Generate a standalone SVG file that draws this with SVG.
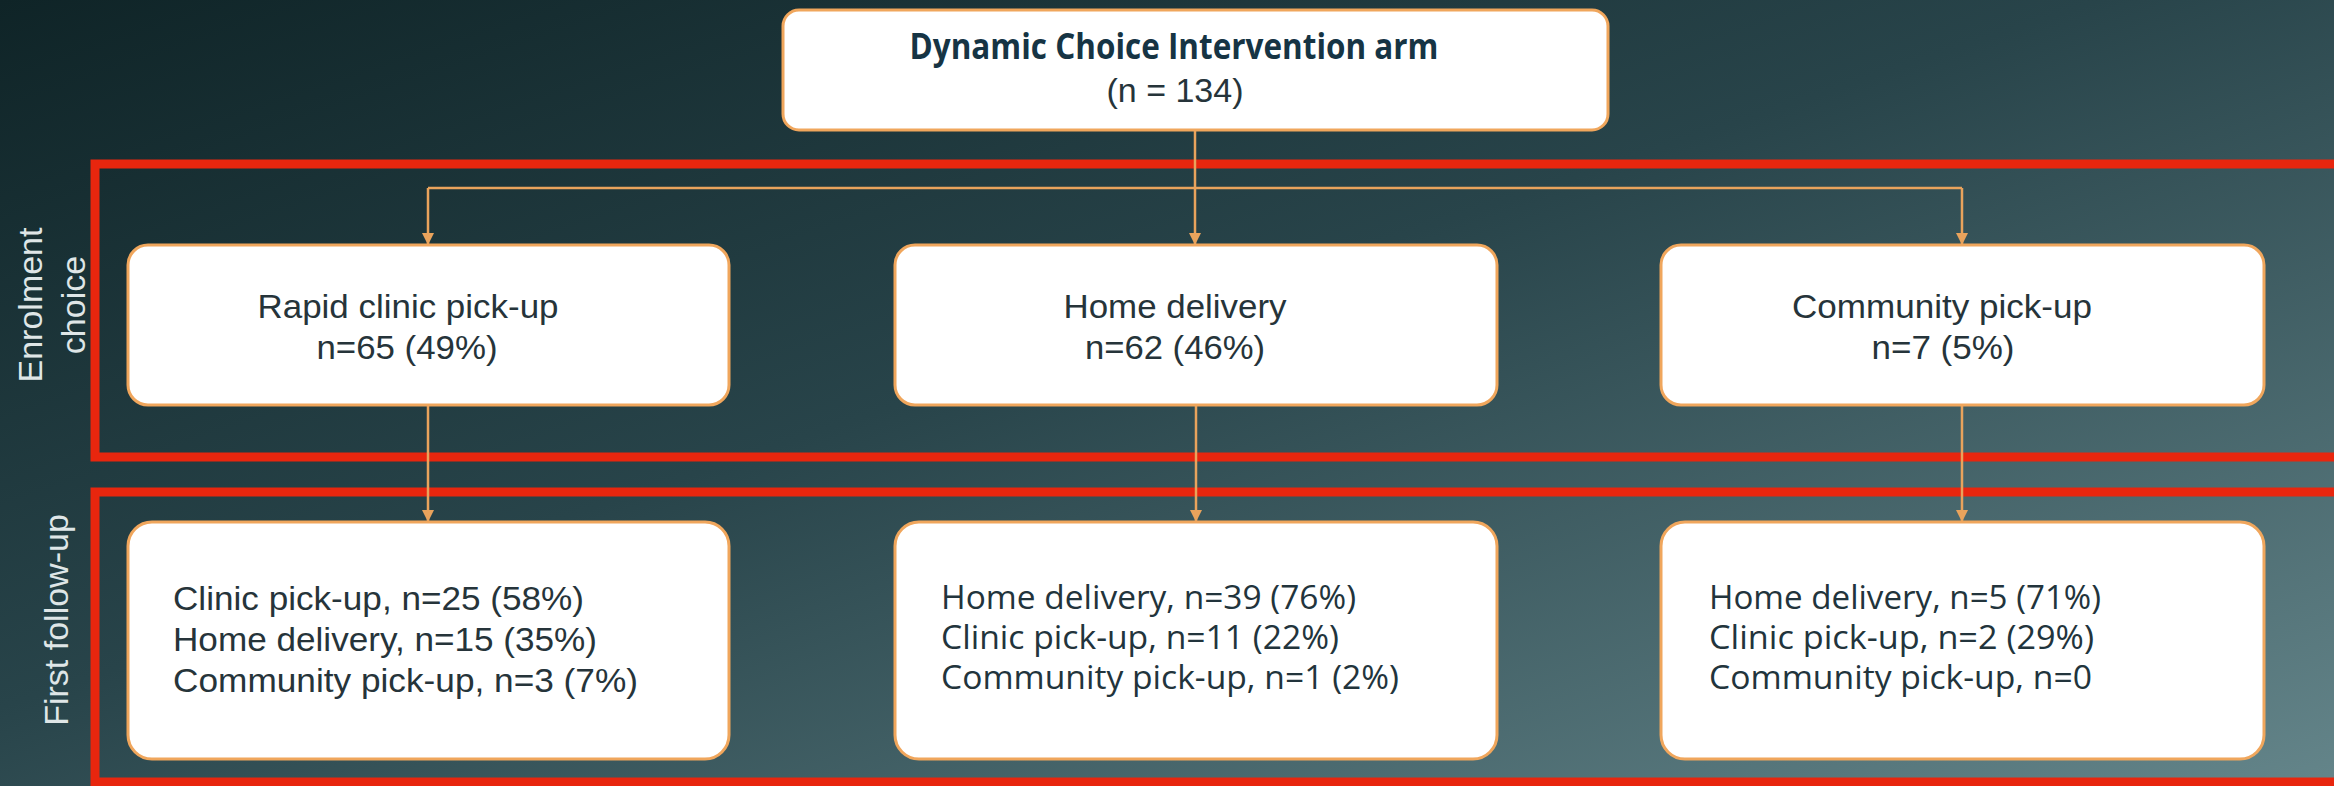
<svg xmlns="http://www.w3.org/2000/svg" width="2334" height="786" viewBox="0 0 2334 786">
<defs>
<linearGradient id="bg" x1="0" y1="0" x2="1" y2="1">
<stop offset="0" stop-color="#0f2427"/>
<stop offset="0.45" stop-color="#28444a"/>
<stop offset="1" stop-color="#64858a"/>
</linearGradient>
<marker id="arr" viewBox="0 0 10 10" refX="10" refY="5" markerWidth="12" markerHeight="12" markerUnits="userSpaceOnUse" orient="auto">
<path d="M0,0 L10,5 L0,10 Z" fill="#e9a35c"/>
</marker>
<style>
.box{fill:#ffffff;stroke:#f0a65c;stroke-width:3}
.band{fill:none;stroke:#e8260e;stroke-width:9}
.con{fill:none;stroke:#e9a35c;stroke-width:2.5}
.ar{font-family:"Liberation Sans",Arial,sans-serif;font-size:33px;fill:#26343a}
.fs{font-family:"Open Sans","Noto Sans",sans-serif;font-size:32px;fill:#22343c}
.title{font-family:"Open Sans","Noto Sans",sans-serif;font-size:35px;font-weight:700;fill:#163444}
.side{font-family:"Liberation Sans",Arial,sans-serif;font-size:34px;fill:#dfe6e7}
</style>
</defs>
<rect x="0" y="0" width="2334" height="786" fill="url(#bg)"/>

<g id="bands">
<rect class="band" x="95" y="164" width="2260" height="293"/>
<rect class="band" x="95" y="492" width="2260" height="290"/>
</g>

<g id="side-labels">
<text class="side" text-anchor="middle" transform="translate(42,305) rotate(-90)">Enrolment</text>
<text class="side" text-anchor="middle" transform="translate(85,305) rotate(-90)">choice</text>
<text class="side" text-anchor="middle" transform="translate(68,620) rotate(-90)">First follow-up</text>
</g>

<g id="connectors">
<path class="con" d="M1195,130 V188"/>
<path class="con" d="M428,188 H1962"/>
<path class="con" d="M1195,188 V245" marker-end="url(#arr)"/>
<path class="con" d="M428,188 V245" marker-end="url(#arr)"/>
<path class="con" d="M1962,188 V245" marker-end="url(#arr)"/>
<path class="con" d="M428,405 V522" marker-end="url(#arr)"/>
<path class="con" d="M1196,405 V522" marker-end="url(#arr)"/>
<path class="con" d="M1962,405 V522" marker-end="url(#arr)"/>
</g>

<g id="top">
<rect class="box" x="783" y="10" width="825" height="120" rx="16"/>
<text class="title" x="1174" y="59" text-anchor="middle" textLength="529" lengthAdjust="spacingAndGlyphs">Dynamic Choice Intervention arm</text>
<text class="ar" x="1175" y="102" text-anchor="middle" textLength="137" lengthAdjust="spacingAndGlyphs">(n = 134)</text>
</g>

<g id="enrol-clinic">
<rect class="box" x="128" y="245" width="601" height="160" rx="20"/>
<text class="ar" x="408" y="318" text-anchor="middle" textLength="301" lengthAdjust="spacingAndGlyphs">Rapid clinic pick-up</text>
<text class="ar" x="407" y="359" text-anchor="middle" textLength="181" lengthAdjust="spacingAndGlyphs">n=65 (49%)</text>
</g>

<g id="enrol-home">
<rect class="box" x="895" y="245" width="602" height="160" rx="20"/>
<text class="ar" x="1175" y="318" text-anchor="middle" textLength="223" lengthAdjust="spacingAndGlyphs">Home delivery</text>
<text class="ar" x="1175" y="359" text-anchor="middle" textLength="180" lengthAdjust="spacingAndGlyphs">n=62 (46%)</text>
</g>

<g id="enrol-community">
<rect class="box" x="1661" y="245" width="603" height="160" rx="20"/>
<text class="ar" x="1942" y="318" text-anchor="middle" textLength="300" lengthAdjust="spacingAndGlyphs">Community pick-up</text>
<text class="ar" x="1943" y="359" text-anchor="middle" textLength="143" lengthAdjust="spacingAndGlyphs">n=7 (5%)</text>
</g>

<g id="fu-clinic">
<rect class="box" x="128" y="522" width="601" height="237" rx="24"/>
<text class="ar" x="173" y="610" textLength="411" lengthAdjust="spacingAndGlyphs">Clinic pick-up, n=25 (58%)</text>
<text class="ar" x="173" y="651" textLength="424" lengthAdjust="spacingAndGlyphs">Home delivery, n=15 (35%)</text>
<text class="ar" x="173" y="692" textLength="465" lengthAdjust="spacingAndGlyphs">Community pick-up, n=3 (7%)</text>
</g>

<g id="fu-home">
<rect class="box" x="895" y="522" width="602" height="237" rx="24"/>
<text class="fs" x="941" y="609" textLength="415" lengthAdjust="spacingAndGlyphs">Home delivery, n=39 (76%)</text>
<text class="fs" x="941" y="649" textLength="398" lengthAdjust="spacingAndGlyphs">Clinic pick-up, n=11 (22%)</text>
<text class="fs" x="941" y="689" textLength="458" lengthAdjust="spacingAndGlyphs">Community pick-up, n=1 (2%)</text>
</g>

<g id="fu-community">
<rect class="box" x="1661" y="522" width="603" height="237" rx="24"/>
<text class="fs" x="1709" y="609" textLength="392" lengthAdjust="spacingAndGlyphs">Home delivery, n=5 (71%)</text>
<text class="fs" x="1709" y="649" textLength="385" lengthAdjust="spacingAndGlyphs">Clinic pick-up, n=2 (29%)</text>
<text class="fs" x="1709" y="689" textLength="383" lengthAdjust="spacingAndGlyphs">Community pick-up, n=0</text>
</g>
</svg>
